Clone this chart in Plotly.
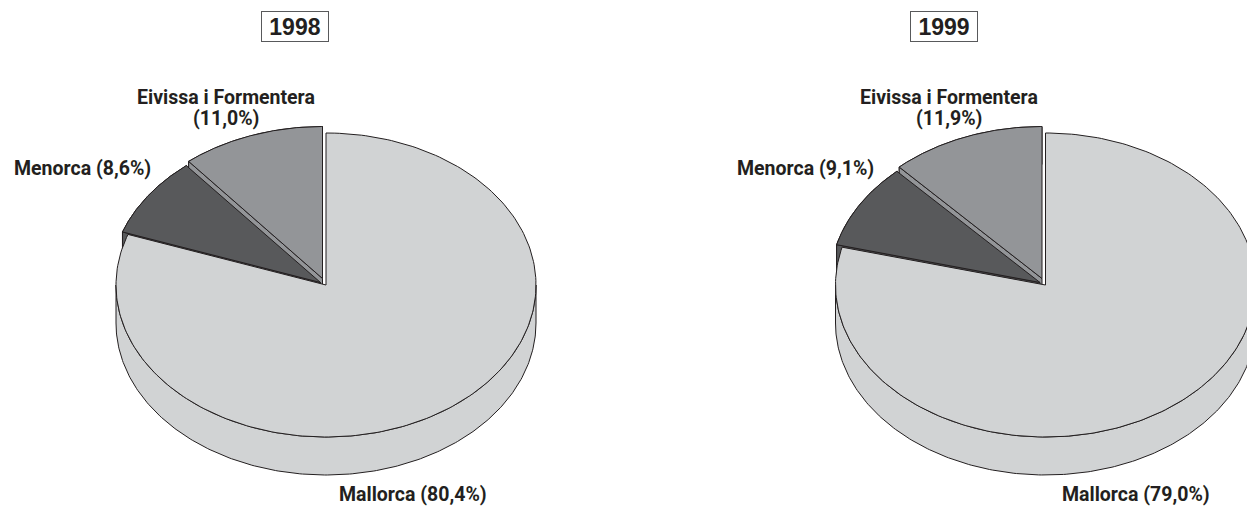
import numpy as np
import plotly.graph_objects as go

years = ["1998", "1999"]
regions = ["Eivissa i Formentera", "Menorca", "Mallorca"]
shares_1998 = [11.0, 8.6, 80.4]
shares_1999 = [11.9, 9.1, 79.0]

colors = ["#939598", "#58595b", "#d1d3d4"]
edge = "#231f20"
font = "Roboto, Liberation Sans, Arial, sans-serif"

# pie geometry, in page pixels (the axes below run 0..1247 and 506..0)
centers = [326, 1045.5]
cy = 285
rx, ry = 210, 152
depth = 38
explode = [(-3.5, -6.5), (-5.5, -2.5), (0, 0)]


def arc(cx, a0, a1, dx=0, dy=0):
    # angles counter-clockwise from 12 o'clock, like the slices are laid out
    a = np.radians(np.linspace(a0, a1, 240))
    return cx + dx - rx * np.sin(a), cy + dy - ry * np.cos(a)


def poly(x, y, color, name):
    return go.Scatter(x=np.append(x, x[0]), y=np.append(y, y[0]), mode="lines", fill="toself",
                      fillcolor=color, line=dict(color=edge, width=1), name=name,
                      hoverinfo="name", showlegend=False)


def add_pie(fig, cx, shares):
    start = 0
    for name, share, color, (dx, dy) in zip(regions, shares, colors, explode):
        end = start + share * 3.6
        ax, ay = arc(cx, start, end, dx, dy)
        px, py = cx + dx, cy + dy
        if name == "Mallorca":
            # only the front half of the rim can be seen
            bx, by = arc(cx, 90, 270, dx, dy)
            fig.add_trace(poly(np.r_[bx, bx[::-1]], np.r_[by, by[::-1] + depth], color, name))
        else:
            # outer rim, then the cut face at the far end of the slice
            fig.add_trace(poly(np.r_[ax, ax[::-1]], np.r_[ay, ay[::-1] + depth], color, name))
            fig.add_trace(poly(np.array([px, ax[-1], ax[-1], px]),
                               np.array([py, ay[-1], ay[-1] + depth, py + depth]), color, name))
        fig.add_trace(poly(np.r_[px, ax], np.r_[py, ay], color, name))
        start = end


fig = go.Figure()
for cx, shares in zip(centers, [shares_1998, shares_1999]):
    add_pie(fig, cx, shares)


def label(text, x, y, anchor="center"):
    fig.add_annotation(x=x, y=y, text=text, showarrow=False, xanchor=anchor, yanchor="middle",
                       font=dict(family=font, size=19.5, color=edge, weight="bold"))


def pct(v):
    return "({0:.1f}%)".format(v).replace(".", ",")


for year, x_box in zip(years, [295, 944]):
    fig.add_annotation(x=x_box, y=26, text="<b>%s</b>" % year,
                       showarrow=False, xanchor="center", yanchor="middle", width=66, height=29,
                       bordercolor="#58595b", borderwidth=1, borderpad=0,
                       font=dict(family="Liberation Sans, Arial, sans-serif", size=23, color=edge))

label(regions[0], 226, 97)
label(pct(shares_1998[0]), 226, 118.5)
label(regions[1] + " " + pct(shares_1998[1]), 82, 168)
label(regions[2] + " " + pct(shares_1998[2]), 412.5, 494)

label(regions[0], 948.5, 97)
label(pct(shares_1999[0]), 948.5, 118.5)
label(regions[1] + " " + pct(shares_1999[1]), 805, 168)
label(regions[2] + " " + pct(shares_1999[2]), 1136, 494)

fig.update_layout(
    width=1247,
    height=506,
    margin=dict(l=0, r=0, t=0, b=0),
    paper_bgcolor="white",
    plot_bgcolor="white",
    showlegend=False,
)
fig.update_xaxes(range=[0, 1247], visible=False, fixedrange=True)
fig.update_yaxes(range=[506, 0], visible=False, fixedrange=True)
# the page's default body margin would push the chart 8px in
fig.write_html("out.html", config=dict(displayModeBar=False),
               post_script="document.body.style.margin='0';document.body.style.overflow='hidden';")
